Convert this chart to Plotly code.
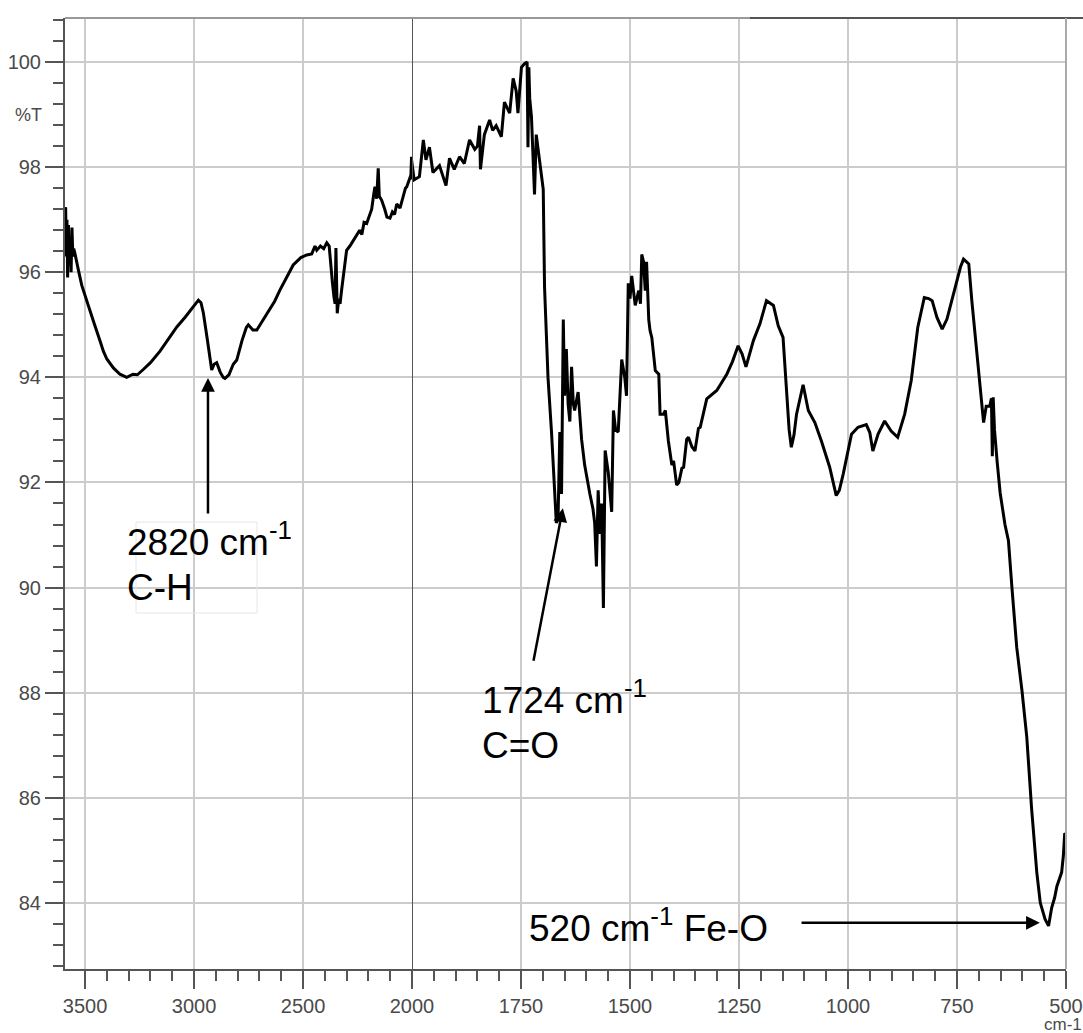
import plotly.graph_objects as go

# ---- data (wavenumber cm-1, %T) ----
wavenumber = [
    3592, 3589, 3586, 3583, 3580, 3576, 3572, 3568, 3564, 3560, 3556, 3552, 3546, 3540,
    3531, 3515, 3500, 3480, 3460, 3430, 3416, 3400, 3370, 3340, 3309, 3280, 3260, 3233,
    3200, 3156, 3120, 3079, 3040, 3011, 2990, 2980, 2968, 2957, 2940, 2925, 2919, 2908,
    2896, 2880, 2866, 2858, 2840, 2820, 2804, 2780, 2760, 2751, 2730, 2712, 2690, 2659,
    2630, 2606, 2575, 2545, 2510, 2483, 2460, 2445, 2437, 2420, 2405, 2391, 2380, 2373,
    2365, 2358, 2353, 2349, 2346, 2343, 2336, 2330, 2323, 2310, 2300, 2285, 2270, 2254,
    2240, 2230, 2220, 2208, 2195, 2185, 2175, 2170, 2162, 2155, 2150, 2139, 2125, 2115,
    2101, 2090, 2080, 2070, 2055, 2040, 2030, 2024, 2015, 2005, 2002, 1995,
    1983, 1974, 1968, 1960, 1952, 1937, 1922, 1914, 1903, 1891, 1880, 1868, 1856, 1850,
    1845, 1843, 1834, 1822, 1815, 1807, 1795, 1788, 1776, 1768, 1761, 1757, 1749, 1742,
    1736, 1734, 1732, 1730, 1726, 1719, 1715, 1707, 1699, 1696, 1688, 1680, 1673, 1669,
    1665, 1661, 1657, 1653, 1650, 1646, 1642, 1638, 1634, 1630, 1627, 1619, 1611, 1604,
    1592, 1585, 1581, 1577, 1573, 1569, 1565, 1561, 1557, 1550, 1542, 1538, 1533, 1527,
    1519, 1512, 1508, 1504, 1500, 1496, 1488, 1480, 1476, 1473, 1469, 1465, 1462, 1457,
    1454, 1450, 1442, 1434, 1431, 1423, 1419, 1412, 1404, 1400, 1393, 1388, 1381, 1377,
    1370, 1366, 1358, 1351, 1343, 1339, 1324, 1301, 1278, 1265, 1252, 1243, 1234, 1217,
    1202, 1187, 1171, 1160, 1149, 1141, 1135, 1130, 1124, 1118, 1103, 1091, 1076, 1061,
    1042, 1027, 1020, 1011, 992, 977, 958, 950, 943, 931, 916, 901, 886, 870,
    855, 840, 825, 815, 807, 796, 784, 773, 754, 742, 735, 723, 716, 704,
    696, 689, 683, 675, 671, 669, 667, 664, 658, 651, 640, 632, 624, 613,
    601, 590, 579, 567, 559, 548, 540, 533, 526, 521, 510, 506, 503, 500,
]
transmittance = [
    96.9, 97.24, 96.3, 97.0, 95.9, 96.9, 96.2, 96.6, 96.0, 96.85, 96.3, 96.45, 96.35, 96.2,
    96.05, 95.75, 95.55, 95.3, 95.05, 94.68, 94.5, 94.35, 94.18, 94.06, 94.0, 94.06, 94.05, 94.15,
    94.28, 94.5, 94.72, 94.96, 95.15, 95.3, 95.42, 95.47, 95.42, 95.22, 94.75, 94.3, 94.14, 94.25,
    94.28, 94.1, 94.0, 93.98, 94.05, 94.25, 94.33, 94.7, 94.95, 95.0, 94.9, 94.9, 95.05, 95.25,
    95.45, 95.66, 95.9, 96.14, 96.28, 96.33, 96.35, 96.5, 96.42, 96.5, 96.45, 96.56, 96.5, 96.1,
    95.8, 95.53, 95.4, 96.46, 95.6, 95.22, 95.5, 95.4, 95.66, 96.15, 96.42, 96.5, 96.6, 96.68,
    96.8, 96.72, 96.95, 96.93, 97.1, 97.2, 97.5, 97.63, 97.4, 97.98, 97.45, 97.37, 97.2, 97.05,
    97.03, 97.15, 97.1, 97.3, 97.22, 97.45, 97.6, 97.63, 97.72, 97.85, 98.2, 97.76,
    97.82, 98.52, 98.14, 98.38, 97.9, 98.03, 97.65, 98.17, 97.96, 98.2, 98.07, 98.52, 98.34, 98.4,
    98.79, 97.96, 98.62, 98.9, 98.7, 98.79, 98.58, 99.24, 99.03, 99.69, 99.45, 99.03, 99.9, 99.97,
    100.0, 98.38, 99.9, 99.31, 98.96, 97.48, 98.62, 98.14, 97.58, 95.72, 93.99, 92.96, 91.92, 91.23,
    91.3, 92.96, 91.78, 95.1, 93.65, 94.54, 93.5, 93.16, 94.2, 93.5, 93.37, 93.72, 92.82, 92.33,
    91.78, 91.5, 91.23, 90.4, 91.85, 91.02, 91.6, 89.61, 92.61, 92.2, 91.44, 93.37, 93.0, 92.96,
    94.34, 94.0, 93.65, 95.79, 95.5, 95.93, 95.37, 95.65, 95.4, 96.34, 96.2, 95.65, 96.2, 95.1,
    94.89, 94.76, 94.13, 94.06, 93.3, 93.3, 93.37, 92.79, 92.33, 92.41, 91.95, 92.0, 92.27, 92.29,
    92.82, 92.86, 92.68, 92.6, 93.03, 93.05, 93.59, 93.75, 94.06, 94.3, 94.6, 94.45, 94.2, 94.7,
    95.02, 95.46, 95.37, 94.98, 94.76, 93.75, 93.0, 92.67, 92.9, 93.3, 93.86, 93.37, 93.14, 92.79,
    92.29, 91.75, 91.85, 92.16, 92.92, 93.05, 93.1, 92.95, 92.6, 92.92, 93.17, 92.98, 92.86, 93.3,
    93.94, 94.95, 95.52, 95.5, 95.46, 95.14, 94.92, 95.11, 95.71, 96.1, 96.25, 96.16, 95.46, 94.38,
    93.62, 93.14, 93.45, 93.45, 93.6, 92.5, 93.62, 93.0, 92.4, 91.8, 91.2, 90.89, 90.0, 88.86,
    88.04, 87.16, 85.8, 84.58, 84.0, 83.69, 83.56, 83.9, 84.1, 84.31, 84.58, 84.9, 85.32, 85.3,
]

left_ticks = [3500, 3000, 2500]
right_ticks = [2000, 1750, 1500, 1250, 1000, 750, 500]
y_ticks = [84, 86, 88, 90, 92, 94, 96, 98, 100]

# split into the two differently scaled wavenumber segments (keep one point past the break)
idx_left = [i for i, w in enumerate(wavenumber) if w >= 2000]
idx_left = idx_left + [idx_left[-1] + 1]
idx_right = [i for i, w in enumerate(wavenumber) if w <= 2000]
idx_right = [idx_right[0] - 1] + idx_right

W, H = 1083, 1033
ML, MR, MT, MB = 65, 17, 18, 64
PW, PH = W - ML - MR, H - MT - MB


def px(xp):
    return (xp - ML) / PW


def py(yp):
    return (H - MB - yp) / PH


split = px(412)

fig = go.Figure()
line = dict(color="black", width=3)
fig.add_trace(go.Scatter(x=[wavenumber[i] for i in idx_left], y=[transmittance[i] for i in idx_left],
                         mode="lines", line=line, xaxis="x", yaxis="y", hoverinfo="skip"))
fig.add_trace(go.Scatter(x=[wavenumber[i] for i in idx_right], y=[transmittance[i] for i in idx_right],
                         mode="lines", line=line, xaxis="x2", yaxis="y", hoverinfo="skip"))

tickfont = dict(family="Arial, Liberation Sans, sans-serif", size=20, color="#4a4a4a")
axis_common = dict(ticks="outside", ticklen=18, tickwidth=2, tickcolor="#555555",
                   showgrid=True, gridcolor="#cccccc", gridwidth=2, zeroline=False,
                   showline=True, linecolor="#555555", linewidth=2, tickfont=tickfont,
                   automargin=False)

fig.update_layout(
    width=W, height=H, autosize=False,
    margin=dict(l=ML, r=MR, t=MT, b=MB, autoexpand=False),
    paper_bgcolor="white", plot_bgcolor="white",
    showlegend=False,
    xaxis=dict(domain=[0, split], range=[3592, 2000], tickmode="array", tickvals=left_ticks,
               anchor="y",
               minor=dict(tick0=0, dtick=100, ticks="outside", ticklen=10, tickwidth=2,
                          tickcolor="#555555", showgrid=False),
               **axis_common),
    xaxis2=dict(domain=[split, 1], range=[2000, 500], tickmode="array", tickvals=right_ticks,
                anchor="y",
                minor=dict(tick0=0, dtick=50, ticks="outside", ticklen=10, tickwidth=2,
                           tickcolor="#555555", showgrid=False),
                **axis_common),
    yaxis=dict(domain=[0, 1], range=[82.74, 100.84], tickmode="array", tickvals=y_ticks,
               anchor="x",
               minor=dict(tick0=0, dtick=0.4, ticks="outside", ticklen=10, tickwidth=2,
                          tickcolor="#555555", showgrid=False),
               **axis_common),
)

shapes = [
    dict(type="line", xref="x2", yref="paper", x0=2000, x1=2000, y0=0, y1=1,
         line=dict(color="#555555", width=2)),
    dict(type="line", xref="paper", yref="paper", x0=0, x1=px(1083), y0=1, y1=1,
         line=dict(color="#999999", width=2)),
    dict(type="line", xref="paper", yref="paper", x0=px(750), x1=px(1083), y0=1, y1=1,
         line=dict(color="#555555", width=2)),
    dict(type="line", xref="paper", yref="paper", x0=1, x1=1, y0=0, y1=1,
         line=dict(color="#aaaaaa", width=2)),
    dict(type="rect", xref="paper", yref="paper", x0=px(136), x1=px(257), y0=py(613), y1=py(522),
         line=dict(color="#e6e6e6", width=1)),
]
fig.update_layout(shapes=shapes)

labfont = dict(family="Arial, Liberation Sans, sans-serif", size=37, color="black")
texts = [
    ("2820 cm<sup>-1</sup>", 125, 540),
    ("C-H", 125, 587),
    ("1724 cm<sup>-1</sup>", 480, 697),
    ("C=O", 480, 745),
    ("520 cm<sup>-1</sup> Fe-O", 527, 925),
]
anns = []
for t, xp, yp in texts:
    anns.append(dict(text=t, xref="paper", yref="paper", x=px(xp), y=py(yp),
                     xanchor="left", yanchor="middle", showarrow=False, font=labfont))

arrow = dict(showarrow=True, arrowhead=2, arrowsize=1.1, arrowwidth=2.5, arrowcolor="black",
             text="", standoff=0)
anns.append(dict(xref="x", yref="y", axref="x", ayref="y", x=2936, y=93.99, ax=2936, ay=91.38, **arrow))
anns.append(dict(xref="x2", yref="y", axref="x2", ayref="y", x=1654, y=91.51, ax=1722, ay=88.58, **arrow))
anns.append(dict(xref="x2", yref="y", axref="x2", ayref="y", x=560, y=83.62, ax=1110, ay=83.62, **arrow))

smallfont = dict(family="Arial, Liberation Sans, sans-serif", size=18, color="#4a4a4a")
anns.append(dict(text="%T", xref="paper", yref="paper", x=px(28), y=py(115), xanchor="center",
                 yanchor="middle", showarrow=False, font=smallfont))
anns.append(dict(text="cm-1", xref="paper", yref="paper", x=px(1063), y=py(1024), xanchor="center",
                 yanchor="middle", showarrow=False, font=dict(smallfont, size=17)))
fig.update_layout(annotations=anns)

fig.write_html("out.html", config={"displayModeBar": False},
               post_script="document.body.style.margin='0';document.body.style.overflow='hidden';")
